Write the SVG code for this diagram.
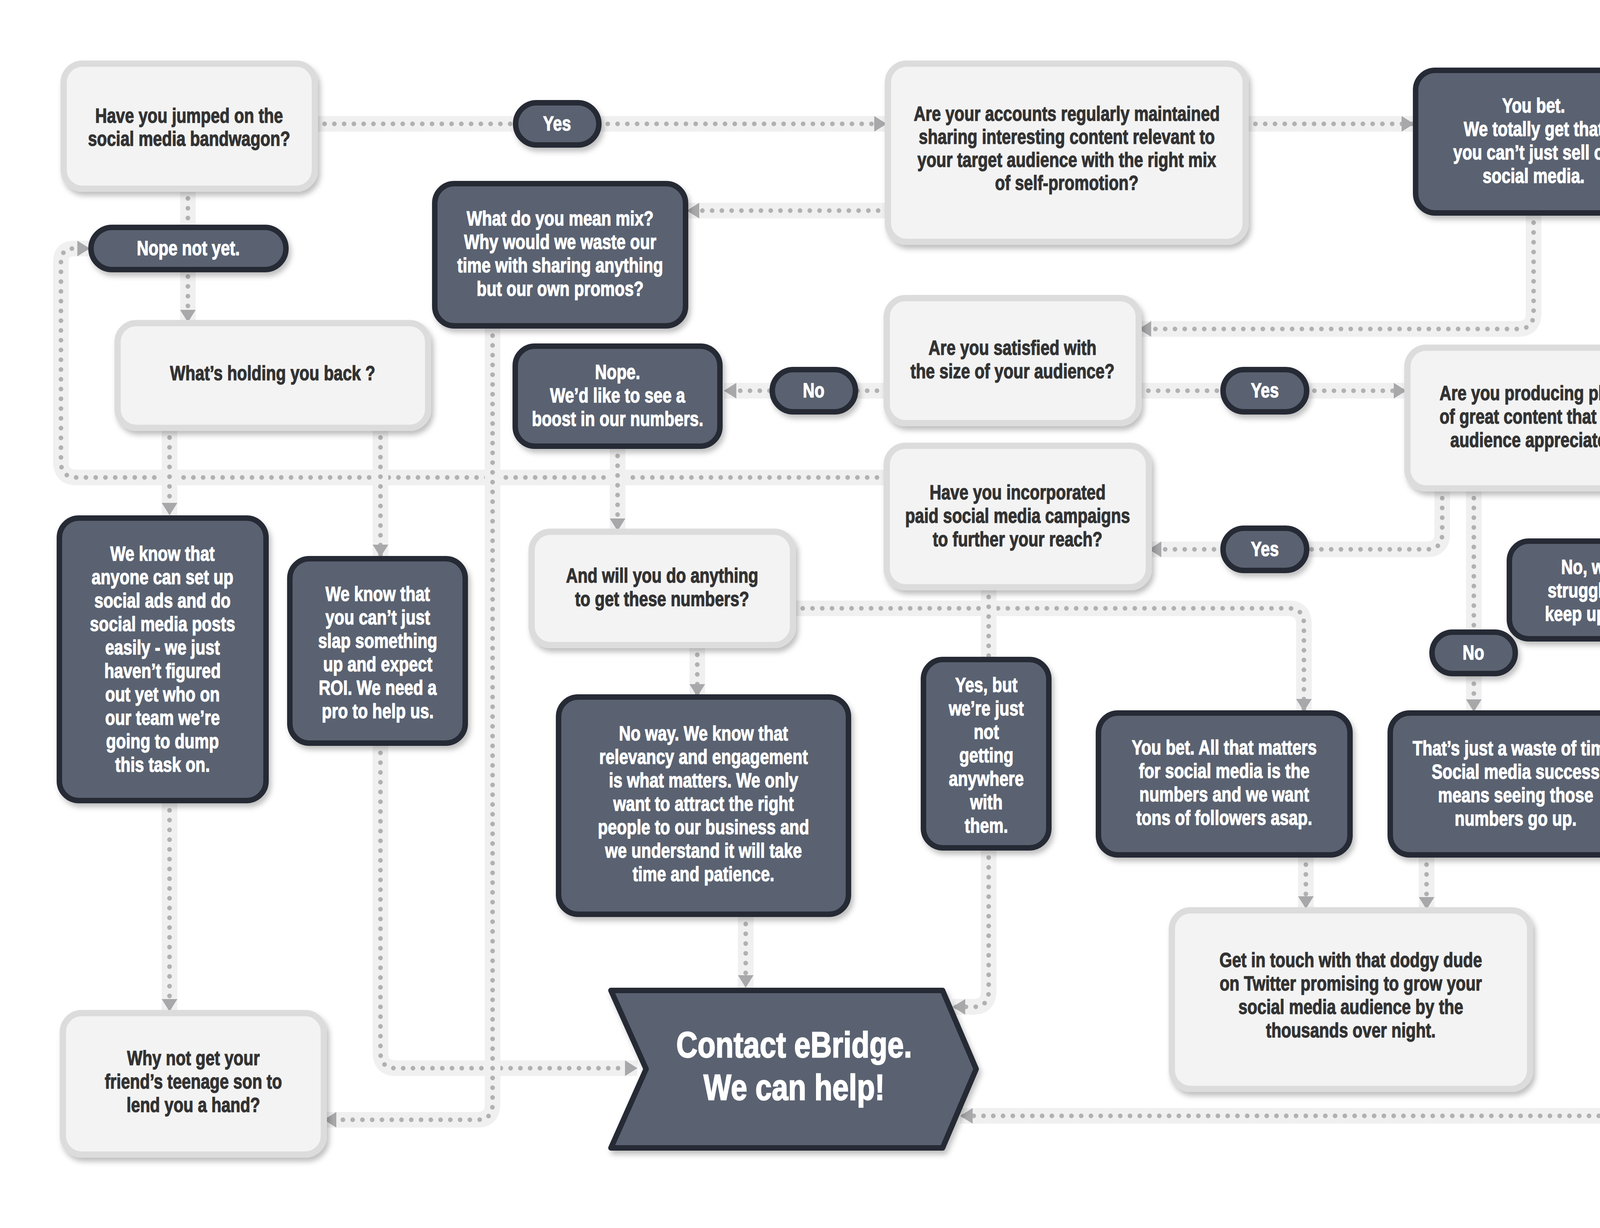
<svg xmlns="http://www.w3.org/2000/svg" width="4445" height="3143" viewBox="0 0 4445 3143">
<style>
.band{fill:none;stroke:#f0f0f0;stroke-width:40}
.dots{fill:none;stroke:#b1b1b3;stroke-width:12;stroke-linecap:round;stroke-dasharray:0 25}
.lbox{fill:#f3f3f3;stroke:#dcdcdc;stroke-width:16;filter:url(#sh)}
.dbox{fill:#5a6271;stroke:#252a35;stroke-width:14;filter:url(#sh)}
.tl{font-family:"Liberation Sans",Arial,sans-serif;font-weight:bold;font-size:52px;fill:#333333;stroke:#333333;stroke-width:1.6px;text-anchor:middle}
.td{font-family:"Liberation Sans",Arial,sans-serif;font-weight:bold;font-size:52px;fill:#ffffff;stroke:#ffffff;stroke-width:1.6px;text-anchor:middle}
.big{font-family:"Liberation Sans",Arial,sans-serif;font-weight:bold;font-size:92px;fill:#ffffff;stroke:#ffffff;stroke-width:2.5px;text-anchor:middle}
</style>
<defs>
<filter id="sh" x="-10%" y="-10%" width="130%" height="140%">
<feDropShadow dx="6" dy="10" stdDeviation="7" flood-color="#000000" flood-opacity="0.25"/>
</filter>
<marker id="ah" markerUnits="userSpaceOnUse" markerWidth="34" markerHeight="40" viewBox="0 0 32 40" refX="32" refY="20" orient="auto">
<path d="M0,0 L32,20 L0,40 Z" fill="#a8a8ab"/>
</marker>
</defs>
<rect width="4445" height="3143" fill="#ffffff"/>

<g id="connectors">
<g id="c1"><path class="band" d="M806,317 L2270,317"/><path class="dots" d="M806,317 L2270,317" marker-end="url(#ah)"/></g>
<g id="c2"><path class="band" d="M3189,317 L3620,317"/><path class="dots" d="M3189,317 L3620,317" marker-end="url(#ah)"/></g>
<g id="c3"><path class="band" d="M2273,539 L1758,539"/><path class="dots" d="M2273,539 L1758,539" marker-end="url(#ah)"/></g>
<g id="c4"><path class="band" d="M3926,545 L3926,802 Q3926,842 3886,842 L2915,842"/><path class="dots" d="M3926,545 L3926,802 Q3926,842 3886,842 L2915,842" marker-end="url(#ah)"/></g>
<g id="c5"><path class="band" d="M2270,1000 L1853,1000"/><path class="dots" d="M2270,1000 L1853,1000" marker-end="url(#ah)"/></g>
<g id="c6"><path class="band" d="M2915,1000 L3600,1000"/><path class="dots" d="M2915,1000 L3600,1000" marker-end="url(#ah)"/></g>
<g id="c7"><path class="band" d="M3692,1250 L3692,1366 Q3692,1406 3652,1406 L2941,1406"/><path class="dots" d="M3692,1250 L3692,1366 Q3692,1406 3652,1406 L2941,1406" marker-end="url(#ah)"/></g>
<g id="c8"><path class="band" d="M3773,1250 L3773,1822"/><path class="dots" d="M3773,1250 L3773,1822" marker-end="url(#ah)"/></g>
<g id="c9"><path class="band" d="M4136,1250 L4136,1384"/><path class="dots" d="M4136,1250 L4136,1384" marker-end="url(#ah)"/></g>
<g id="c10"><path class="band" d="M4262,1635 L4262,2816 Q4262,2856 4222,2856 L2458,2856"/><path class="dots" d="M4262,1635 L4262,2816 Q4262,2856 4222,2856 L2458,2856" marker-end="url(#ah)"/></g>
<g id="c11"><path class="band" d="M481,483 L481,825"/><path class="dots" d="M481,483 L481,825" marker-end="url(#ah)"/></g>
<g id="c12"><path class="band" d="M2270,1222 L196,1222 Q156,1222 156,1182 L156,670 Q156,636 190,636 L230,636"/><path class="dots" d="M2270,1222 L196,1222 Q156,1222 156,1182 L156,670 Q156,636 190,636 L230,636" marker-end="url(#ah)"/></g>
<g id="c13"><path class="band" d="M434,1095 L434,1319"/><path class="dots" d="M434,1095 L434,1319" marker-end="url(#ah)"/></g>
<g id="c14"><path class="band" d="M974,1095 L974,1426"/><path class="dots" d="M974,1095 L974,1426" marker-end="url(#ah)"/></g>
<g id="c15"><path class="band" d="M974,1902 L974,2694 Q974,2734 1014,2734 L1632,2734"/><path class="dots" d="M974,1902 L974,2694 Q974,2734 1014,2734 L1632,2734" marker-end="url(#ah)"/></g>
<g id="c16"><path class="band" d="M434,2049 L434,2589"/><path class="dots" d="M434,2049 L434,2589" marker-end="url(#ah)"/></g>
<g id="c17"><path class="band" d="M1261,834 L1261,2826 Q1261,2866 1221,2866 L829,2866"/><path class="dots" d="M1261,834 L1261,2826 Q1261,2866 1221,2866 L829,2866" marker-end="url(#ah)"/></g>
<g id="c18"><path class="band" d="M1581,1142 L1581,1359"/><path class="dots" d="M1581,1142 L1581,1359" marker-end="url(#ah)"/></g>
<g id="c19"><path class="band" d="M1785,1651 L1785,1783"/><path class="dots" d="M1785,1651 L1785,1783" marker-end="url(#ah)"/></g>
<g id="c20"><path class="band" d="M2030,1557 L3298,1557 Q3338,1557 3338,1597 L3338,1821"/><path class="dots" d="M2030,1557 L3298,1557 Q3338,1557 3338,1597 L3338,1821" marker-end="url(#ah)"/></g>
<g id="c21"><path class="band" d="M2531,1503 L2531,1688"/><path class="dots" d="M2531,1503 L2531,1688"/></g>
<g id="c22"><path class="band" d="M2531,2170 L2531,2537 Q2531,2577 2491,2577 L2439,2577"/><path class="dots" d="M2531,2170 L2531,2537 Q2531,2577 2491,2577 L2439,2577" marker-end="url(#ah)"/></g>
<g id="c23"><path class="band" d="M1909,2340 L1909,2528"/><path class="dots" d="M1909,2340 L1909,2528" marker-end="url(#ah)"/></g>
<g id="c24"><path class="band" d="M3343,2188 L3343,2326"/><path class="dots" d="M3343,2188 L3343,2326" marker-end="url(#ah)"/></g>
<g id="c25"><path class="band" d="M3652,2188 L3652,2328"/><path class="dots" d="M3652,2188 L3652,2328" marker-end="url(#ah)"/></g>
</g>

<g id="n-bandwagon"><rect class="lbox" x="163" y="163" width="643" height="320" rx="48"/>
<text class="tl" transform="translate(484 0) scale(0.8 1)"><tspan x="0" y="314">Have you jumped on the</tspan><tspan x="0" y="373">social media bandwagon?</tspan></text></g>

<g id="n-accounts"><rect class="lbox" x="2273" y="163" width="916" height="456" rx="48"/>
<text class="tl" transform="translate(2731 0) scale(0.8 1)"><tspan x="0" y="309">Are your accounts regularly maintained</tspan><tspan x="0" y="368">sharing interesting content relevant to</tspan><tspan x="0" y="427">your target audience with the right mix</tspan><tspan x="0" y="486">of self-promotion?</tspan></text></g>

<g id="n-youbet"><rect class="dbox" x="3624" y="180" width="603" height="365" rx="50"/>
<text class="td" transform="translate(3926 0) scale(0.8 1)"><tspan x="0" y="288">You bet.</tspan><tspan x="0" y="348">We totally get that</tspan><tspan x="0" y="408">you can’t just sell on</tspan><tspan x="0" y="468">social media.</tspan></text></g>

<g id="n-mix"><rect class="dbox" x="1113" y="470" width="642" height="364" rx="50"/>
<text class="td" transform="translate(1434 0) scale(0.8 1)"><tspan x="0" y="577">What do you mean mix?</tspan><tspan x="0" y="637">Why would we waste our</tspan><tspan x="0" y="697">time with sharing anything</tspan><tspan x="0" y="757">but our own promos?</tspan></text></g>

<g id="n-holding"><rect class="lbox" x="301" y="827" width="795" height="268" rx="48"/>
<text class="tl" transform="translate(698 0) scale(0.8 1)"><tspan x="0" y="973">What’s holding you back ?</tspan></text></g>

<g id="n-satisfied"><rect class="lbox" x="2270" y="763" width="645" height="320" rx="48"/>
<text class="tl" transform="translate(2592 0) scale(0.8 1)"><tspan x="0" y="908">Are you satisfied with</tspan><tspan x="0" y="968">the size of your audience?</tspan></text></g>

<g id="n-boost"><rect class="dbox" x="1319" y="886" width="524" height="256" rx="50"/>
<text class="td" transform="translate(1581 0) scale(0.8 1)"><tspan x="0" y="970">Nope.</tspan><tspan x="0" y="1030">We’d like to see a</tspan><tspan x="0" y="1090">boost in our numbers.</tspan></text></g>

<g id="n-producing"><rect class="lbox" x="3603" y="890" width="668" height="360" rx="48"/>
<text class="tl" transform="translate(3937 0) scale(0.8 1)"><tspan x="0" y="1024">Are you producing plenty</tspan><tspan x="0" y="1084">of great content that your</tspan><tspan x="0" y="1144">audience appreciates?</tspan></text></g>

<g id="n-incorporated"><rect class="lbox" x="2270" y="1141" width="671" height="362" rx="48"/>
<text class="tl" transform="translate(2605 0) scale(0.8 1)"><tspan x="0" y="1278">Have you incorporated</tspan><tspan x="0" y="1338">paid social media campaigns</tspan><tspan x="0" y="1398">to further your reach?</tspan></text></g>

<g id="n-struggling"><rect class="dbox" x="3864" y="1385" width="450" height="250" rx="50"/>
<text class="td" transform="translate(4089 0) scale(0.8 1)"><tspan x="0" y="1469">No, we’re</tspan><tspan x="0" y="1529">struggling to</tspan><tspan x="0" y="1589">keep up here.</tspan></text></g>

<g id="n-anything"><rect class="lbox" x="1361" y="1361" width="669" height="290" rx="48"/>
<text class="tl" transform="translate(1695 0) scale(0.8 1)"><tspan x="0" y="1491">And will you do anything</tspan><tspan x="0" y="1551">to get these numbers?</tspan></text></g>

<g id="n-anyone"><rect class="dbox" x="152" y="1326" width="529" height="723" rx="50"/>
<text class="td" transform="translate(416 0) scale(0.8 1)"><tspan x="0" y="1435">We know that</tspan><tspan x="0" y="1495">anyone can set up</tspan><tspan x="0" y="1555">social ads and do</tspan><tspan x="0" y="1615">social media posts</tspan><tspan x="0" y="1675">easily - we just</tspan><tspan x="0" y="1735">haven’t figured</tspan><tspan x="0" y="1795">out yet who on</tspan><tspan x="0" y="1855">our team we’re</tspan><tspan x="0" y="1915">going to dump</tspan><tspan x="0" y="1975">this task on.</tspan></text></g>

<g id="n-cant"><rect class="dbox" x="742" y="1430" width="449" height="472" rx="50"/>
<text class="td" transform="translate(967 0) scale(0.8 1)"><tspan x="0" y="1538">We know that</tspan><tspan x="0" y="1598">you can’t just</tspan><tspan x="0" y="1658">slap something</tspan><tspan x="0" y="1718">up and expect</tspan><tspan x="0" y="1778">ROI. We need a</tspan><tspan x="0" y="1838">pro to help us.</tspan></text></g>

<g id="n-noway"><rect class="dbox" x="1430" y="1784" width="742" height="556" rx="50"/>
<text class="td" transform="translate(1801 0) scale(0.8 1)"><tspan x="0" y="1895">No way. We know that</tspan><tspan x="0" y="1955">relevancy and engagement</tspan><tspan x="0" y="2015">is what matters. We only</tspan><tspan x="0" y="2075">want to attract the right</tspan><tspan x="0" y="2135">people to our business and</tspan><tspan x="0" y="2195">we understand it will take</tspan><tspan x="0" y="2255">time and patience.</tspan></text></g>

<g id="n-yesbut"><rect class="dbox" x="2364" y="1688" width="321" height="482" rx="50"/>
<text class="td" transform="translate(2525 0) scale(0.8 1)"><tspan x="0" y="1771">Yes, but</tspan><tspan x="0" y="1831">we’re just</tspan><tspan x="0" y="1891">not</tspan><tspan x="0" y="1951">getting</tspan><tspan x="0" y="2011">anywhere</tspan><tspan x="0" y="2071">with</tspan><tspan x="0" y="2131">them.</tspan></text></g>

<g id="n-youbetall"><rect class="dbox" x="2812" y="1825" width="644" height="363" rx="50"/>
<text class="td" transform="translate(3134 0) scale(0.8 1)"><tspan x="0" y="1931">You bet. All that matters</tspan><tspan x="0" y="1991">for social media is the</tspan><tspan x="0" y="2051">numbers and we want</tspan><tspan x="0" y="2111">tons of followers asap.</tspan></text></g>

<g id="n-waste"><rect class="dbox" x="3559" y="1825" width="643" height="363" rx="50"/>
<text class="td" transform="translate(3880 0) scale(0.8 1)"><tspan x="0" y="1933">That’s just a waste of time.</tspan><tspan x="0" y="1993">Social media success</tspan><tspan x="0" y="2053">means seeing those</tspan><tspan x="0" y="2113">numbers go up.</tspan></text></g>

<g id="n-dodgy"><rect class="lbox" x="3000" y="2330" width="917" height="457" rx="48"/>
<text class="tl" transform="translate(3458 0) scale(0.8 1)"><tspan x="0" y="2475">Get in touch with that dodgy dude</tspan><tspan x="0" y="2535">on Twitter promising to grow your</tspan><tspan x="0" y="2595">social media audience by the</tspan><tspan x="0" y="2655">thousands over night.</tspan></text></g>

<g id="n-whynot"><rect class="lbox" x="161" y="2593" width="668" height="362" rx="48"/>
<text class="tl" transform="translate(495 0) scale(0.8 1)"><tspan x="0" y="2726">Why not get your</tspan><tspan x="0" y="2786">friend’s teenage son to</tspan><tspan x="0" y="2846">lend you a hand?</tspan></text></g>

<g id="n-contact"><polygon class="dbox" points="1564,2535 2413,2535 2499,2736 2413,2938 1564,2938 1654,2736" stroke-linejoin="round"/>
<text class="big" transform="translate(2033 0) scale(0.82 1)"><tspan x="0" y="2706">Contact eBridge.</tspan><tspan x="0" y="2815">We can help!</tspan></text></g>

<g id="p-yes1"><rect class="dbox" x="1320" y="263" width="213" height="108" rx="54"/>
<text class="td" transform="translate(1426 0) scale(0.8 1)"><tspan x="0" y="334">Yes</tspan></text></g>

<g id="p-nope"><rect class="dbox" x="233" y="582" width="499" height="108" rx="54"/>
<text class="td" transform="translate(482 0) scale(0.8 1)"><tspan x="0" y="653">Nope not yet.</tspan></text></g>

<g id="p-no1"><rect class="dbox" x="1977" y="946" width="213" height="108" rx="54"/>
<text class="td" transform="translate(2083 0) scale(0.8 1)"><tspan x="0" y="1017">No</tspan></text></g>

<g id="p-yes2"><rect class="dbox" x="3131" y="946" width="214" height="108" rx="54"/>
<text class="td" transform="translate(3238 0) scale(0.8 1)"><tspan x="0" y="1017">Yes</tspan></text></g>

<g id="p-yes3"><rect class="dbox" x="3131" y="1352" width="214" height="108" rx="54"/>
<text class="td" transform="translate(3238 0) scale(0.8 1)"><tspan x="0" y="1423">Yes</tspan></text></g>

<g id="p-no2"><rect class="dbox" x="3666" y="1618" width="213" height="106" rx="53"/>
<text class="td" transform="translate(3772 0) scale(0.8 1)"><tspan x="0" y="1688">No</tspan></text></g>
</svg>
